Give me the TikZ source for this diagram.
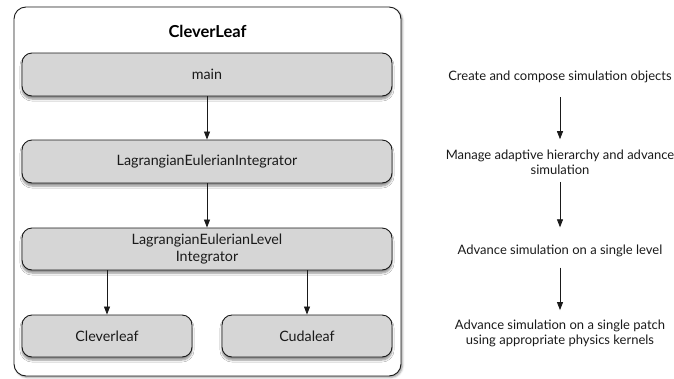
\documentclass[tikz,border=0pt]{standalone}
\usepackage{fontspec}
\setmainfont{Lato}
\usetikzlibrary{arrows.meta,shadows.blur}
\definecolor{boxgray}{HTML}{D6D6D6}
\definecolor{inkgray}{HTML}{1A1A1A}
\tikzset{
  module/.style={draw=inkgray, line width=0.9pt, fill=boxgray, rounded corners=10pt,
    align=center, font=\fontsize{14.3}{17}\selectfont, text=inkgray,
    blur shadow={shadow xshift=0pt, shadow yshift=-3pt, shadow blur steps=6, shadow opacity=45}},
  frame/.style={draw=inkgray, line width=0.9pt, fill=white, rounded corners=12pt,
    blur shadow={shadow xshift=1.5pt, shadow yshift=-1.5pt, shadow blur steps=4, shadow opacity=40}},
  note/.style={align=center, inner sep=0pt, font=\fontsize{13}{14.5}\selectfont, text=inkgray},
  flow/.style={-{Triangle[length=8pt,width=6pt]}, line width=0.8pt, inkgray}
}
\begin{document}
\begin{tikzpicture}[x=1pt,y=-1pt]
  \useasboundingbox (0,0) rectangle (674,378);
  % enclosing component
  \draw[frame] (14,7) rectangle (401,376);
  \node[font=\fontsize{16.5}{18}\bfseries, text=black] (title) at (207.5,31) {CleverLeaf};
  % modules
  \node[module, minimum width=370pt, minimum height=43pt] (main) at (207,74.5) {main};
  \node[module, minimum width=370pt, minimum height=43pt] (lei) at (207,161.5) {LagrangianEulerianIntegrator};
  \node[module, minimum width=370pt, minimum height=42pt] (leli) at (207,249) {LagrangianEulerianLevel\\Integrator};
  \node[module, minimum width=170pt, minimum height=42pt] (clev) at (107,336) {Cleverleaf};
  \node[module, minimum width=170pt, minimum height=42pt] (cuda) at (307,336) {Cudaleaf};
  % call chain
  \draw[flow] (main) -- (lei);
  \draw[flow] (lei) -- (leli);
  \draw[flow] (leli.south -| clev.north) -- (clev.north);
  \draw[flow] (leli.south -| cuda.north) -- (cuda.north);
  % responsibilities
  \node[note] (r1) at (560,76.5) {Create and compose simulation objects};
  \node[note] (r2) at (560,162.5) {Manage adaptive hierarchy and advance\\simulation};
  \node[note] (r3) at (560,250.5) {Advance simulation on a single level};
  \node[note] (r4) at (560,333.5) {Advance simulation on a single patch\\using appropriate physics kernels};
  \draw[flow, shorten <=14.5pt, shorten >=11pt] (r1) -- (r2);
  \draw[flow, shorten <=7pt, shorten >=17pt] (r2) -- (r3);
  \draw[flow, shorten <=11pt, shorten >=10pt] (r3) -- (r4);
\end{tikzpicture}
\end{document}
